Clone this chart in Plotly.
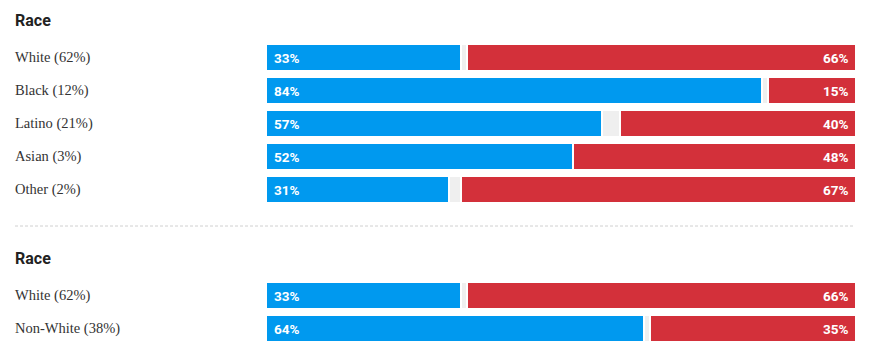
import plotly.graph_objects as go

# ---- data ----
section_titles = ["Race", "Race"]
sec1_labels = ["White (62%)", "Black (12%)", "Latino (21%)", "Asian (3%)", "Other (2%)"]
sec1_dem = [33, 84, 57, 52, 31]
sec1_rep = [66, 15, 40, 48, 67]
sec2_labels = ["White (62%)", "Non-White (38%)"]
sec2_dem = [33, 64]
sec2_rep = [66, 35]

W, H = 870, 360
OFF = 8  # page body margin
X0, X1 = 266 - OFF, 856 - OFF
LX = 13 - OFF
BLUE = "#0099ef"
RED = "#d3303a"
GRAY = "#efefef"

ROW = 33
sec_tops = [57.5 - OFF, 295.5 - OFF]
title_y = [20 - OFF, 258 - OFF]
rule_y = 226 - OFF

labels, dem, rep, ys = [], [], [], []
for top, (lab, d, r) in zip(sec_tops, [(sec1_labels, sec1_dem, sec1_rep),
                                       (sec2_labels, sec2_dem, sec2_rep)]):
    for i in range(len(lab)):
        labels.append(lab[i]); dem.append(d[i]); rep.append(r[i]); ys.append(top + i * ROW)

fig = go.Figure()
bw = 27
fig.add_trace(go.Bar(y=ys, x=[100] * len(ys), base=0, orientation="h", width=bw,
                     marker=dict(color=GRAY, line=dict(color="white", width=2)),
                     hoverinfo="skip"))
fig.add_trace(go.Bar(y=ys, x=dem, base=0, orientation="h", width=bw,
                     marker=dict(color=BLUE, line=dict(color="white", width=2)),
                     hoverinfo="skip"))
fig.add_trace(go.Bar(y=ys, x=rep, base=[100 - v for v in rep], orientation="h", width=bw,
                     marker=dict(color=RED, line=dict(color="white", width=2)),
                     hoverinfo="skip"))

ann = []
for y, lab, d, r in zip(ys, labels, dem, rep):
    ann.append(dict(x=LX / W, xref="paper", y=y, yref="y", text=lab, showarrow=False,
                    xanchor="left", yanchor="middle",
                    font=dict(family="Liberation Serif, serif", size=14.5, color="#333")))
    ann.append(dict(x=0, xref="x", y=y, yref="y", text=f"{d}%", showarrow=False,
                    xanchor="left", yanchor="middle", xshift=6,
                    font=dict(family="Roboto, Arial", size=13.5, color="white", weight="bold")))
    ann.append(dict(x=100, xref="x", y=y, yref="y", text=f"{r}%", showarrow=False,
                    xanchor="right", yanchor="middle", xshift=-6,
                    font=dict(family="Roboto, Arial", size=13.5, color="white", weight="bold")))
for t, ty in zip(section_titles, title_y):
    ann.append(dict(x=LX / W, xref="paper", y=ty, yref="y", text=t, showarrow=False,
                    xanchor="left", yanchor="middle",
                    font=dict(family="Roboto, Arial", size=16, color="#222", weight="bold")))

fig.update_layout(
    width=W, height=H, margin=dict(l=0, r=0, t=0, b=0),
    paper_bgcolor="white", plot_bgcolor="white", showlegend=False,
    barmode="overlay", bargap=0,
    xaxis=dict(range=[0, 100], domain=[X0 / W, X1 / W], visible=False, fixedrange=True),
    yaxis=dict(range=[H, 0], visible=False, fixedrange=True),
    annotations=ann,
    shapes=[dict(type="line", xref="paper", yref="y", x0=(15 - OFF) / W, x1=(855 - OFF) / W,
                 y0=rule_y, y1=rule_y,
                 line=dict(color="#d0d0d0", width=1, dash="3px,2px"))],
)
fig.write_html("out.html", config={"displayModeBar": False})
